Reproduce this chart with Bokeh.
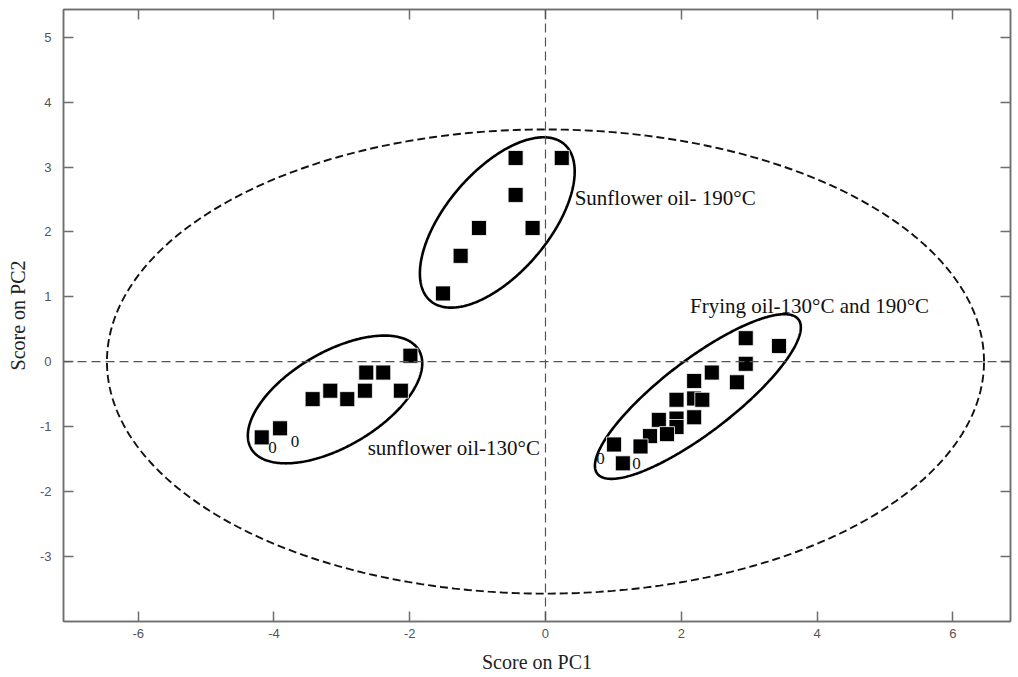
import numpy as np
from bokeh.plotting import figure
from bokeh.models import LinearAxis, FixedTicker, Span, Range1d, PrintfTickFormatter
from bokeh.core.properties import value
from bokeh.embed import file_html
from bokeh.resources import INLINE

# ---- data ----
sf190_x = [-0.44, 0.24, -0.44, -0.98, -0.19, -1.25, -1.51]
sf190_y = [3.14, 3.14, 2.57, 2.06, 2.06, 1.63, 1.05]

sf130_x = [-1.99, -2.64, -2.39, -3.17, -2.66, -2.13, -3.43, -2.92, -3.91, -4.18]
sf130_y = [0.09, -0.17, -0.17, -0.45, -0.45, -0.45, -0.58, -0.58, -1.03, -1.17]

fry_x = [2.95, 3.44, 2.95, 2.45, 2.82, 2.19, 2.19, 2.31, 1.93, 2.19, 1.93, 1.93,
         1.67, 1.79, 1.54, 1.40, 1.01, 1.14]
fry_y = [0.36, 0.24, -0.035, -0.17, -0.32, -0.30, -0.57, -0.59, -0.59, -0.86, -0.88, -1.01,
         -0.90, -1.12, -1.15, -1.31, -1.28, -1.57]

zero_x = [-4.02, -3.69, 0.81, 1.34]
zero_y = [-1.33, -1.23, -1.50, -1.58]
zero_text = ["0", "0", "0", "0"]

# group ellipses: centre, semi-axes, angle (deg)
ell_cx = [-0.71, -3.10, 2.245]
ell_cy = [2.145, -0.585, -0.54]
ell_a = [1.56, 1.45, 1.90]
ell_b = [0.77, 0.72, 0.55]
ell_ang = [51.7, 32.3, 39.0]

# confidence (Hotelling) ellipse
conf_a = 6.46
conf_b = 3.58

group_labels = ["Sunflower oil- 190°C", "Frying oil-130°C and 190°C", "sunflower oil-130°C"]
label_x = [0.43, 2.13, -2.62]
label_y = [2.52, 0.86, -1.34]

x_ticks = [-6, -4, -2, 0, 2, 4, 6]
y_ticks = [-3, -2, -1, 0, 1, 2, 3, 4, 5]

SERIF = "Liberation Serif"
SANS = "Liberation Sans"
FRAME = "#6e6e6e"

p = figure(width=1016, height=675,
           x_range=Range1d(-7.10, 6.85), y_range=Range1d(-4.01, 5.43),
           output_backend="svg", toolbar_location=None,
           min_border_left=63, min_border_right=6, min_border_top=9, min_border_bottom=54)
p.xgrid.visible = False
p.ygrid.visible = False
p.outline_line_color = FRAME
p.outline_line_width = 1.5
p.background_fill_color = "white"
p.border_fill_color = "white"

def style_axis(ax, ticks, labels=True):
    ax.ticker = FixedTicker(ticks=ticks)
    ax.major_tick_in = 10
    ax.major_tick_out = 0
    ax.minor_tick_line_color = None
    ax.major_tick_line_color = FRAME
    ax.major_tick_line_width = 1.5
    ax.axis_line_color = FRAME
    ax.axis_line_width = 1.5
    if labels:
        ax.formatter = PrintfTickFormatter(format="%d")
        ax.major_label_text_font = SANS
        ax.major_label_text_font_size = "13px"
        ax.major_label_text_color = "#555555"
    else:
        ax.major_label_text_font_size = "0px"
        ax.major_label_standoff = 0

style_axis(p.xaxis[0], x_ticks)
style_axis(p.yaxis[0], y_ticks)
p.xaxis[0].major_label_standoff = 7
p.yaxis[0].major_label_standoff = 12
p.xaxis[0].axis_label = "Score on PC1"
p.yaxis[0].axis_label = "Score on PC2"
for ax in (p.xaxis[0], p.yaxis[0]):
    ax.axis_label_text_font = SERIF
    ax.axis_label_text_font_size = "20px"
    ax.axis_label_text_font_style = "normal"
    ax.axis_label_text_color = "#222222"
p.xaxis[0].axis_label_standoff = 10
p.yaxis[0].axis_label_standoff = 8

top_ax = LinearAxis()
style_axis(top_ax, x_ticks, labels=False)
p.add_layout(top_ax, "above")
right_ax = LinearAxis()
style_axis(right_ax, y_ticks, labels=False)
p.add_layout(right_ax, "right")

# dashed cross lines
p.add_layout(Span(location=0, dimension="height", line_color="#555555",
                  line_dash="9 5", line_width=1.2))
p.add_layout(Span(location=0, dimension="width", line_color="#555555",
                  line_dash="9 5", line_width=1.2))

# confidence ellipse (dashed)
t = np.linspace(0, 2 * np.pi, 400)
p.line(conf_a * np.cos(t), conf_b * np.sin(t), line_color="#111111",
       line_dash="8 4", line_width=1.9)

# group ellipses
for cx, cy, a, b, ang in zip(ell_cx, ell_cy, ell_a, ell_b, ell_ang):
    th = np.radians(ang)
    ex = cx + a * np.cos(t) * np.cos(th) - b * np.sin(t) * np.sin(th)
    ey = cy + a * np.cos(t) * np.sin(th) + b * np.sin(t) * np.cos(th)
    p.line(ex, ey, line_color="black", line_width=2.6)

# score points
for xs, ys in ((sf190_x, sf190_y), (sf130_x, sf130_y), (fry_x, fry_y)):
    p.scatter(xs, ys, marker="square", size=15, fill_color="black",
              line_color="white", line_width=0.8)

p.text(zero_x, zero_y, text=zero_text, text_font=value(SERIF), text_font_size="17px",
       text_align="center", text_baseline="middle", text_color="#111111")

p.text(label_x, label_y, text=group_labels, text_font=value(SERIF), text_font_size="21px",
       text_align="left", text_baseline="middle", text_color="#111111")

open("out.html", "w").write(file_html(p, INLINE))
